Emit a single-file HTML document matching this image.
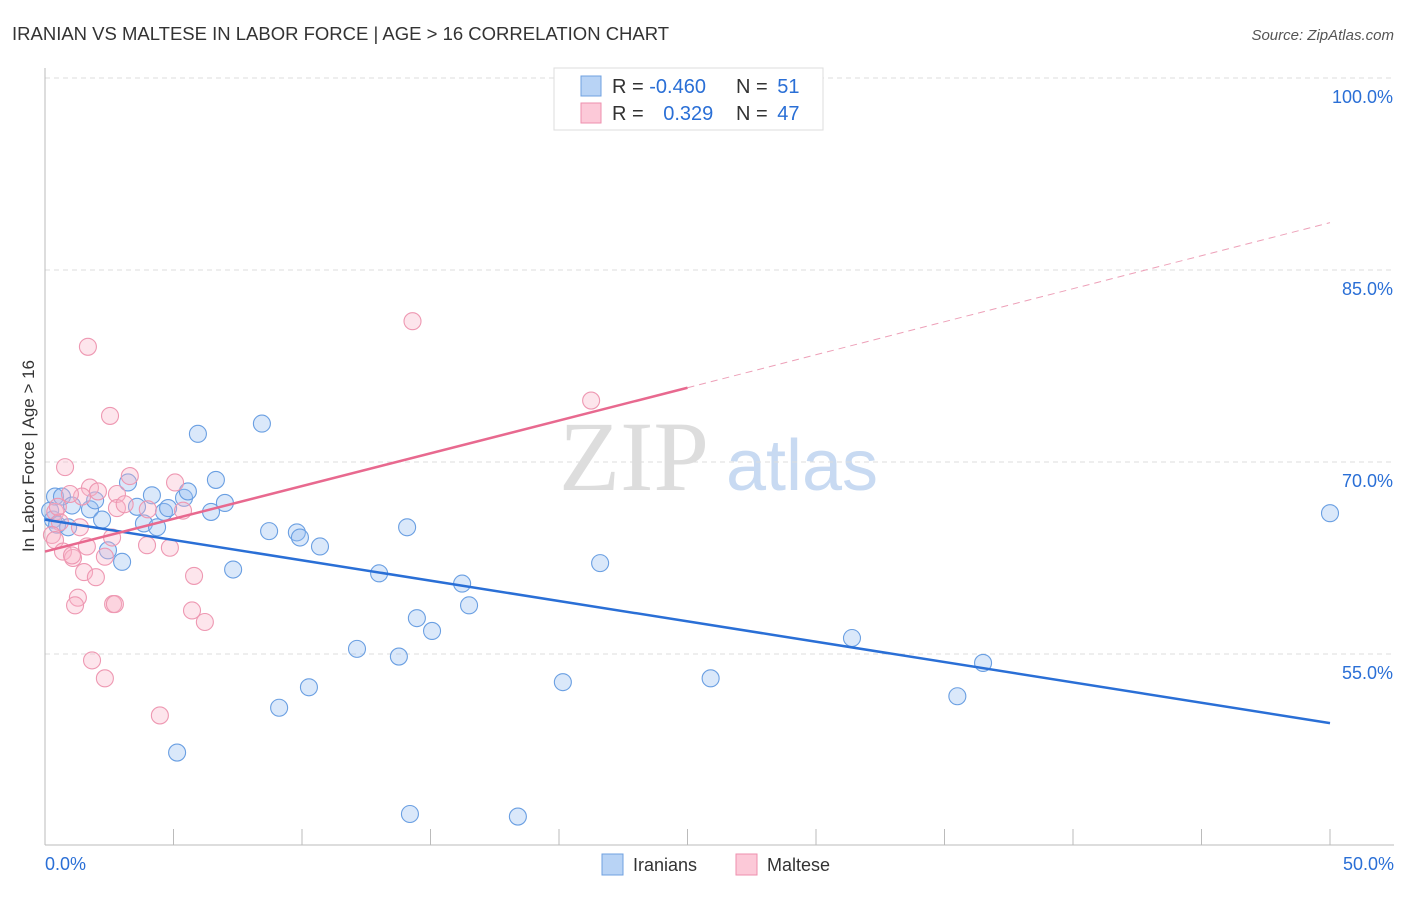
<!DOCTYPE html>
<html><head><meta charset="utf-8"><style>
body{margin:0;background:#fff;font-family:"Liberation Sans",sans-serif}
</style></head><body>
<svg id="c" width="1406" height="892" font-family="Liberation Sans, sans-serif">
<text x="12" y="40" font-size="18.5" fill="#333">IRANIAN VS MALTESE IN LABOR FORCE | AGE &gt; 16 CORRELATION CHART</text>
<text x="1394" y="40" font-size="15" fill="#555" font-style="italic" text-anchor="end">Source: ZipAtlas.com</text>
<text x="34" y="456" font-size="17" fill="#333" text-anchor="middle" transform="rotate(-90 34 456)">In Labor Force | Age &gt; 16</text>
<text x="634" y="490" font-size="100" fill="#ddd" style="font-family:'Liberation Serif',serif" text-anchor="middle">ZIP</text>
<text x="802" y="490" font-size="72" fill="#c8daf2" text-anchor="middle">atlas</text>
<g id="grid"></g><g id="marks"></g>
<g>
<rect x="554" y="68" width="269" height="62" fill="#fff" stroke="#ddd"/>
<rect x="581" y="76" width="20" height="20" fill="#b8d3f5" stroke="#6fa0e0"/>
<rect x="581" y="103" width="20" height="20" fill="#fcc9d8" stroke="#ee8fae"/>
<text x="612" y="93" font-size="20" fill="#333">R = <tspan fill="#2a6fd6">-0.460</tspan></text>
<text x="736" y="93" font-size="20" fill="#333">N = <tspan fill="#2a6fd6" dx="4">51</tspan></text>
<text x="612" y="120" font-size="20" fill="#333">R = <tspan fill="#2a6fd6" dx="14">0.329</tspan></text>
<text x="736" y="120" font-size="20" fill="#333">N = <tspan fill="#2a6fd6" dx="4">47</tspan></text>
</g>
<g>
<rect x="602" y="854" width="21" height="21" fill="#b8d3f5" stroke="#6fa0e0"/>
<text x="633" y="871" font-size="18" fill="#333">Iranians</text>
<rect x="736" y="854" width="21" height="21" fill="#fcc9d8" stroke="#ee8fae"/>
<text x="767" y="871" font-size="18" fill="#333">Maltese</text>
</g>
</svg>
<script>
const yTicks=[100,85,70,55];
const yTickLabels=["100.0%","85.0%","70.0%","55.0%"];
const xTicks=[0,5,10,15,20,25,30,35,40,45,50];
const xEndLabels=["0.0%","50.0%"];
const iranX=[0.39,0.66,1.05,1.75,1.95,2.22,2.45,3.0,3.23,3.58,3.85,4.16,4.36,4.63,4.79,5.14,5.41,5.56,5.95,6.46,6.65,7.0,7.32,8.44,8.72,9.11,9.8,9.92,10.27,10.7,12.14,13.0,13.77,14.09,14.2,14.47,15.06,16.23,16.5,18.4,20.15,21.6,25.9,31.4,35.5,36.5,50,0.31,0.47,0.2,0.9];
const iranY=[67.3,67.3,66.6,66.3,67.0,65.5,63.1,62.2,68.4,66.5,65.2,67.4,64.9,66.1,66.4,47.3,67.2,67.7,72.2,66.1,68.6,66.8,61.6,73.0,64.6,50.8,64.5,64.1,52.4,63.4,55.4,61.3,54.8,64.9,42.5,57.8,56.8,60.5,58.8,42.3,52.8,62.1,53.1,56.25,51.7,54.3,66.0,65.5,65.1,66.2,64.9];
const maltX=[1.67,2.53,0.78,14.3,21.25,3.3,5.06,1.75,2.06,2.8,1.44,0.97,2.8,5.37,0.4,0.58,1.36,0.27,0.39,2.61,3.97,1.63,0.7,4.86,1.09,2.33,1.05,5.8,1.52,1.98,1.28,1.17,2.65,2.72,5.72,6.22,1.83,2.33,4.47,3.1,4.0,0.5];
const maltY=[79.0,73.6,69.6,81.0,74.8,68.9,68.4,68.0,67.7,67.5,67.3,67.5,66.4,66.2,66.1,65.3,64.9,64.3,63.9,64.1,63.5,63.4,63.0,63.3,62.5,62.6,62.7,61.1,61.4,61.0,59.4,58.8,58.9,58.9,58.4,57.5,54.5,53.1,50.2,66.7,66.3,66.5];
const iranTrend=[[0,65.5],[50,49.6]];
const maltTrend=[[0,63.0],[25,75.8]];
const maltTrendExt=[[25,75.8],[50,88.7]];
const sx=v=>45+v/50*1285, sy=v=>78+(100-v)*12.8;
const NS="http://www.w3.org/2000/svg";
function mk(t,a,p){const e=document.createElementNS(NS,t);for(const k in a)e.setAttribute(k,a[k]);p.appendChild(e);return e;}
const g=document.getElementById('grid'), m=document.getElementById('marks');
yTicks.forEach((v,i)=>{
 const l=mk('line',{x1:45,x2:1394,y1:sy(v),y2:sy(v),stroke:'#ddd','stroke-dasharray':'5,4'},g);
 
 
 const t=mk('text',{x:1393,y:sy(v)+25,'font-size':18,fill:'#2a6fd6','text-anchor':'end'},g);t.textContent=yTickLabels[i];
 
 
});
const ax=mk('line',{x1:45,x2:45,y1:68,y2:845,stroke:'#bbb'},g);


const bx=mk('line',{x1:45,x2:1394,y1:845,y2:845,stroke:'#bbb'},g);


xTicks.forEach(v=>{const l=mk('line',{x1:sx(v),x2:sx(v),y1:829,y2:845,stroke:'#bbb'},g);
 
 });
[[0,'start',45],[1,'end',1394]].forEach(([i,a,x])=>{const t=mk('text',{x:x,y:870,'font-size':18,fill:'#2a6fd6','text-anchor':a},g);t.textContent=xEndLabels[i];
 
 });
iranX.forEach((x,i)=>{const c=mk('circle',{cx:sx(x),cy:sy(iranY[i]),r:8.5,fill:'rgba(150,190,240,0.35)',stroke:'#6a9fe2','stroke-width':1.1},m);
 
 });
maltX.forEach((x,i)=>{const c=mk('circle',{cx:sx(x),cy:sy(maltY[i]),r:8.5,fill:'rgba(250,180,200,0.35)',stroke:'#ee98b2','stroke-width':1.1},m);
 
 });
const l1=mk('line',{x1:sx(iranTrend[0][0]),y1:sy(iranTrend[0][1]),x2:sx(iranTrend[1][0]),y2:sy(iranTrend[1][1]),stroke:'#2a6fd6','stroke-width':2.5},m);


const l2=mk('line',{x1:sx(maltTrend[0][0]),y1:sy(maltTrend[0][1]),x2:sx(maltTrend[1][0]),y2:sy(maltTrend[1][1]),stroke:'#e8698f','stroke-width':2.5},m);


const l3=mk('line',{x1:sx(maltTrendExt[0][0]),y1:sy(maltTrendExt[0][1]),x2:sx(maltTrendExt[1][0]),y2:sy(maltTrendExt[1][1]),stroke:'#eda0b8','stroke-width':1,'stroke-dasharray':'7,5'},m);


</script>
</body></html>
